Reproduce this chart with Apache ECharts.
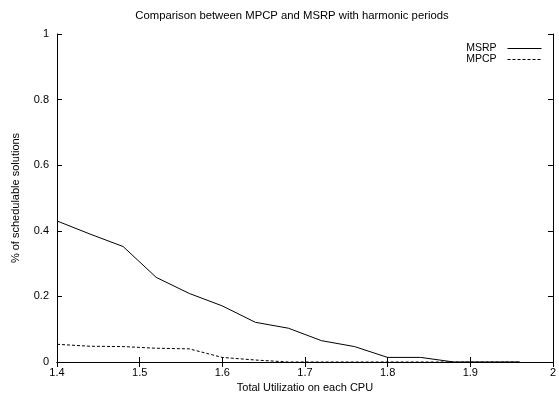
<!DOCTYPE html>
<html><head><meta charset="utf-8">
<script src="https://cdn.jsdelivr.net/npm/echarts@6/dist/echarts.min.js"></script>
<style>html,body{margin:0;padding:0;background:#fff}#c{width:559px;height:399px}</style>
</head><body><div id="c"></div>
<script>
const xs = [1.4, 1.44, 1.48, 1.52, 1.56, 1.6, 1.64, 1.68, 1.72, 1.76, 1.8, 1.84, 1.88, 1.92, 1.96];
const msrp = [0.43, 0.39, 0.352, 0.258, 0.209, 0.171, 0.121, 0.103, 0.065, 0.047, 0.014, 0.014, 0, 0, 0];
const mpcp = [0.054, 0.048, 0.047, 0.042, 0.04, 0.014, 0.006, 0, 0, 0, 0, 0, 0, 0, 0];
const titleText = 'Comparison between MPCP and MSRP with harmonic periods';
const xName = 'Total Utilizatio on each CPU';
const yName = '% of schedulable solutions';

const font = 'Liberation Sans, Arial, Helvetica, sans-serif';
const chart = echarts.init(document.getElementById('c'));
const fmt = v => String(+(+v).toFixed(1));
const tick = {show:true, inside:true, length:5, lineStyle:{color:'#000', width:1}};
chart.setOption({
  animation:false,
  title:{text:titleText, left:287, top:5, textAlign:'center',
    textStyle:{fontFamily:font, fontSize:11.3, fontWeight:'normal', color:'#000'}},
  legend:{orient:'vertical', right:12, top:38, align:'right', itemGap:0,
    itemWidth:34, itemHeight:10,
    itemStyle:{opacity:0},
    lineStyle:{width:1},
    textStyle:{fontFamily:font, fontSize:10.5, color:'#000', padding:[0,6,0,0]},
    data:['MSRP','MPCP']},
  grid:{left:57, right:3, top:34, bottom:37},
  xAxis:[{type:'value', min:1.4, max:2, interval:0.1,
    name:xName, nameLocation:'middle', nameGap:18,
    nameTextStyle:{fontFamily:font, fontSize:11, color:'#000'},
    axisLine:{lineStyle:{color:'#000', width:1}}, axisTick:tick,
    axisLabel:{formatter:fmt, fontFamily:font, fontSize:11, color:'#000', margin:5},
    splitLine:{show:false}},
   {type:'value', position:'top', min:1.4, max:2, interval:0.1,
    axisLine:{show:true, lineStyle:{color:'#000', width:1}}, axisTick:tick,
    axisLabel:{show:false}, splitLine:{show:false}}],
  yAxis:[{type:'value', min:0, max:1, interval:0.2,
    name:yName, nameLocation:'middle', nameGap:36,
    nameTextStyle:{fontFamily:font, fontSize:11, color:'#000'},
    axisLine:{show:true, lineStyle:{color:'#000', width:1}}, axisTick:tick,
    axisLabel:{formatter:fmt, fontFamily:font, fontSize:11, color:'#000', margin:8},
    splitLine:{show:false}},
   {type:'value', position:'right', min:0, max:1, interval:0.2,
    axisLine:{show:true, lineStyle:{color:'#000', width:1}}, axisTick:tick,
    axisLabel:{show:false}, splitLine:{show:false}}],
  series:[
    {name:'MSRP', type:'line', symbol:'none', data:xs.map((x,i)=>[x, msrp[i]]),
      lineStyle:{color:'#000', width:1}, itemStyle:{color:'#000'}},
    {name:'MPCP', type:'line', symbol:'none', data:xs.map((x,i)=>[x, mpcp[i]]),
      lineStyle:{color:'#000', width:1, type:[3,2]}, itemStyle:{color:'#000'}}
  ]
});
</script></body></html>
